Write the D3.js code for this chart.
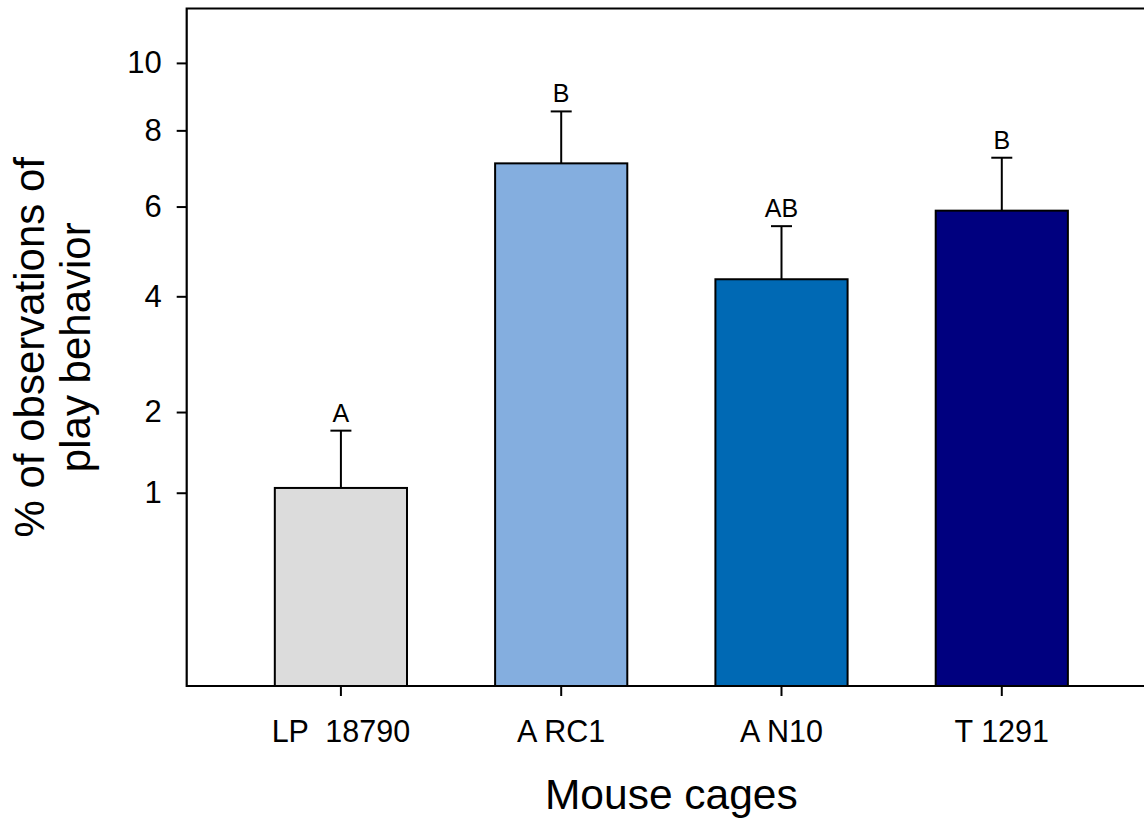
<!DOCTYPE html>
<html>
<head>
<meta charset="utf-8">
<script src="https://cdn.jsdelivr.net/npm/d3@7"></script>
<style>
  html, body { margin: 0; padding: 0; background: #fff; }
  svg { display: block; font-family: "Liberation Sans", Arial, sans-serif; }
</style>
</head>
<body>
<div id="chart"></div>
<script>
// data
const cages = ["LP  18790", "A RC1", "A N10", "T 1291"]
const means = [1.05, 7.10, 4.35, 5.90]
const errors = [0.69, 1.44, 1.18, 1.35]
const letters = ["A", "B", "AB", "B"]
const colors = ["#dcdcdc", "#84aedf", "#0069b4", "#00007f"]
const yTicks = [1, 2, 4, 6, 8, 10]

const width = 1144
const height = 818
const plotLeft = 186.7
const plotRight = 1156   // frame runs past the right edge of the picture
const plotTop = 8.5
const plotBottom = 686

const data = cages.map((c, i) => ({ cage: c, mean: means[i], err: errors[i], letter: letters[i], color: colors[i] }))

const svg = d3.select('#chart')
    .append('svg')
    .attr('width', width)
    .attr('height', height)

const xScale = d3.scaleBand()
    .domain(cages)
    .range([plotLeft, plotRight])
    .paddingInner(0.4)
    .paddingOuter(0.4)

// square-root-like axis (exponent fitted to the tick spacing)
const yScale = d3.scalePow()
    .exponent(0.52)
    .domain([0, 10])
    .range([678.7, 62.9])

// bars
svg.selectAll('rect.bar')
    .data(data)
    .enter()
    .append('rect')
    .attr('class', 'bar')
    .attr('x', d => xScale(d.cage))
    .attr('y', d => yScale(d.mean))
    .attr('width', xScale.bandwidth())
    .attr('height', d => plotBottom - yScale(d.mean))
    .attr('fill', d => d.color)
    .attr('stroke', '#000')
    .attr('stroke-width', 2)

// upper error bars
const cx = d => xScale(d.cage) + xScale.bandwidth() / 2
const eb = svg.append('g')
    .attr('stroke', '#000')
    .attr('stroke-width', 2)
eb.selectAll('line.stem')
    .data(data)
    .enter()
    .append('line')
    .attr('class', 'stem')
    .attr('x1', cx)
    .attr('x2', cx)
    .attr('y1', d => yScale(d.mean))
    .attr('y2', d => yScale(d.mean + d.err))
eb.selectAll('line.cap')
    .data(data)
    .enter()
    .append('line')
    .attr('class', 'cap')
    .attr('x1', d => cx(d) - 10.5)
    .attr('x2', d => cx(d) + 10.5)
    .attr('y1', d => yScale(d.mean + d.err))
    .attr('y2', d => yScale(d.mean + d.err))

// significance letters
svg.selectAll('text.letter')
    .data(data)
    .enter()
    .append('text')
    .attr('class', 'letter')
    .attr('x', cx)
    .attr('y', d => yScale(d.mean + d.err) - 9)
    .attr('text-anchor', 'middle')
    .attr('font-size', 25)
    .text(d => d.letter)

// axes
const yAxis = d3.axisLeft(yScale)
    .tickValues(yTicks)
    .tickFormat(d3.format('d'))
    .tickSize(10)
    .tickPadding(15)
const gy = svg.append('g')
    .attr('transform', `translate(${plotLeft},0)`)
    .call(yAxis)
gy.select('.domain').remove()
gy.selectAll('line').attr('stroke-width', 2)
gy.selectAll('text')
    .attr('font-size', 31)
    .attr('font-family', '"Liberation Sans", Arial, sans-serif')
    .attr('fill', '#000')

const xAxis = d3.axisBottom(xScale)
    .tickSize(10)
    .tickPadding(24)
const gx = svg.append('g')
    .attr('transform', `translate(0,${plotBottom})`)
    .call(xAxis)
gx.select('.domain').remove()
gx.selectAll('line').attr('stroke-width', 2)
gx.selectAll('text')
    .attr('font-size', 30.5)
    .attr('font-family', '"Liberation Sans", Arial, sans-serif')
    .attr('fill', '#000')
    .style('white-space', 'pre')

// frame: left, top and bottom lines
svg.append('path')
    .attr('d', `M${plotRight},${plotTop}H${plotLeft}V${plotBottom}H${plotRight}`)
    .attr('fill', 'none')
    .attr('stroke', '#000')
    .attr('stroke-width', 2.2)

// axis titles
svg.append('text')
    .attr('x', (plotLeft + plotRight) / 2)
    .attr('y', 809)
    .attr('text-anchor', 'middle')
    .attr('font-size', 42.5)
    .text('Mouse cages')

const yTitle = svg.append('text')
    .attr('transform', `translate(0,${(plotTop + plotBottom) / 2}) rotate(-90)`)
    .attr('text-anchor', 'middle')
    .attr('font-size', 42)
yTitle.append('tspan').attr('x', 0).attr('y', 44).text('% of observations of')
yTitle.append('tspan').attr('x', 0).attr('y', 90).text('play behavior')
</script>
</body>
</html>
